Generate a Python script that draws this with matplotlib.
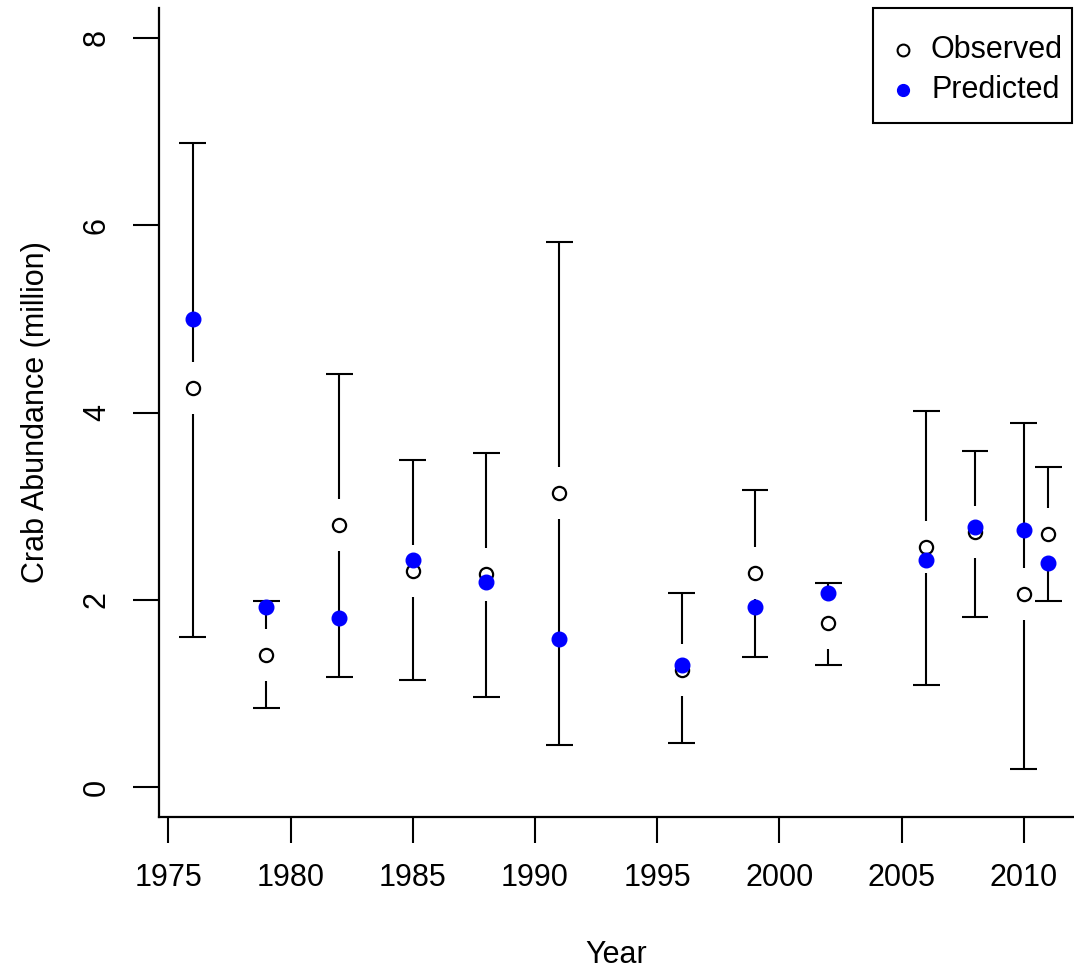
import matplotlib.pyplot as plt
from matplotlib.patches import Rectangle
import numpy as np

# survey years with observed estimate, CI bounds and model prediction
years = [1976, 1979, 1982, 1985, 1988, 1991, 1996, 1999, 2002, 2006, 2008, 2010, 2011]
observed = [4.26, 1.41, 2.80, 2.31, 2.27, 3.14, 1.25, 2.29, 1.75, 2.56, 2.72, 2.06, 2.70]
lower = [1.60, 0.84, 1.18, 1.14, 0.96, 0.45, 0.47, 1.39, 1.30, 1.09, 1.82, 0.19, 1.99]
upper = [6.88, 1.99, 4.41, 3.49, 3.57, 5.82, 2.07, 3.17, 2.18, 4.02, 3.59, 3.89, 3.42]
predicted = [5.00, 1.92, 1.81, 2.42, 2.19, 1.58, 1.30, 1.92, 2.07, 2.43, 2.78, 2.74, 2.39]

x_ticks = [1975, 1980, 1985, 1990, 1995, 2000, 2005, 2010]
y_ticks = [0, 2, 4, 6, 8]

plt.rcParams['font.family'] = ['Liberation Sans', 'DejaVu Sans']
fs = 22

W, H = 1074, 972
fig = plt.figure(figsize=(W / 100, H / 100), dpi=100)
ax = fig.add_axes([159 / W, 155 / H, 915 / W, 809 / H])

ax.set_xlim(1974.62, 2012.05)
ax.set_ylim(-0.32, 8.32)

lw = 1.5
gap = 0.278      # blank space around the observed point (data units)
cap_half = 0.55  # half width of the error bar caps (years)

yrs = np.array(years)
obs = np.array(observed)
lo = np.array(lower)
hi = np.array(upper)

# CI bars with a gap around the observed value
low_top = obs - gap
up_bot = obs + gap
m = low_top > lo
ax.vlines(yrs[m], lo[m], low_top[m], color='black', lw=lw)
m = up_bot < hi
ax.vlines(yrs[m], up_bot[m], hi[m], color='black', lw=lw)
ax.hlines(lo, yrs - cap_half, yrs + cap_half, color='black', lw=lw)
ax.hlines(hi, yrs - cap_half, yrs + cap_half, color='black', lw=lw)

ax.plot(years, observed, 'o', ms=9.5, mfc='white', mec='black', mew=1.6, ls='none')
ax.plot(years, predicted, 'o', ms=10.5, color='#0000ff', mec='#0000ff', ls='none')

# base-graphics look: only left and bottom axis lines
for side in ['top', 'right']:
    ax.spines[side].set_visible(False)
for side in ['left', 'bottom']:
    ax.spines[side].set_linewidth(1.6)

ax.set_xticks(x_ticks)
ax.set_yticks(y_ticks)
ax.tick_params(axis='both', length=19, width=1.5, labelsize=fs)
ax.tick_params(axis='x', pad=14)
ax.tick_params(axis='y', pad=15)
for lab in ax.get_yticklabels():
    lab.set_rotation(90)
    lab.set_va('center')

ax.set_xlabel('Year', fontsize=fs, labelpad=34)
ax.set_ylabel('Crab Abundance (million)', fontsize=fs, labelpad=22)

# legend box in the top-right corner, laid out in figure pixels
def px(x, y):
    return x / W, 1 - y / H

box_l, box_r, box_t, box_b = 873, 1072, 8, 123
fig.add_artist(Rectangle(px(box_l, box_b), (box_r - box_l) / W, (box_b - box_t) / H,
                         transform=fig.transFigure, fill=False, ec='black', lw=1.5))
fig.add_artist(plt.Line2D([px(903, 50)[0]], [px(903, 50)[1]], marker='o', ms=8.5,
                          mfc='white', mec='black', mew=1.5, ls='none',
                          transform=fig.transFigure))
fig.add_artist(plt.Line2D([px(903, 90)[0]], [px(903, 90)[1]], marker='o', ms=8.5,
                          color='#0000ff', ls='none', transform=fig.transFigure))
fig.text(*px(931, 50), 'Observed', fontsize=fs, va='center', ha='left')
fig.text(*px(931, 90), 'Predicted', fontsize=fs, va='center', ha='left')

fig.savefig('out.png', dpi=100)
